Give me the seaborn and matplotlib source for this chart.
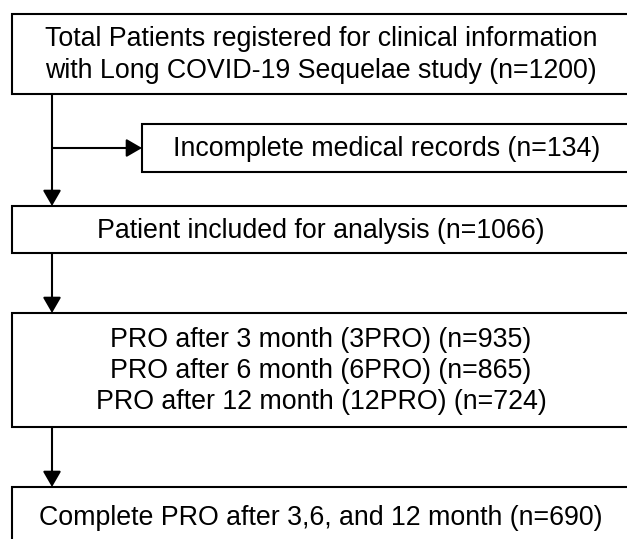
import matplotlib
matplotlib.use('Agg')
import matplotlib.pyplot as plt
from matplotlib.patches import Rectangle
import seaborn as sns

# 흐름도 내용
box_labels = [
    'Total Patients registered for clinical information\nwith Long COVID-19 Sequelae study (n=1200)',
    'Incomplete medical records (n=134)',
    'Patient included for analysis (n=1066)',
    'PRO after 3 month (3PRO) (n=935)\nPRO after 6 month (6PRO) (n=865)\nPRO after 12 month (12PRO) (n=724)',
    'Complete PRO after 3,6, and 12 month (n=690)',
]
counts = [1200, 134, 1066, 935, 690]

# 박스 위치 (픽셀 좌표: left, top, right, bottom)
boxes = [
    (12, 14, 630, 94),
    (142, 124, 631, 172),
    (12, 206, 630, 253),
    (12, 313, 630, 427),
    (12, 487, 630, 547),
]

sns.set_theme(style='white')
plt.rcParams['font.family'] = ['Liberation Sans', 'DejaVu Sans']

fig = plt.figure(figsize=(6.27, 5.39), dpi=100)
ax = fig.add_axes([0, 0, 1, 1])
ax.set_xlim(0, 627)
ax.set_ylim(539, 0)
ax.axis('off')

for (l, t, r, b), label in zip(boxes, box_labels):
    ax.add_patch(Rectangle((l, t), r - l, b - t, facecolor='white',
                           edgecolor='black', lw=1.5))
    ax.text((l + r) / 2, (t + b) / 2 + 1, label, ha='center', va='center',
            fontsize=19.3, linespacing=1.25, color='black')

arrow = dict(arrowstyle='-|>,head_length=0.95,head_width=0.55', color='black',
             lw=1.5, shrinkA=0, shrinkB=0, mutation_scale=10)
x_main = 52

# 세로 화살표
ax.annotate('', xy=(x_main, boxes[2][1]), xytext=(x_main, boxes[0][3]), arrowprops=arrow)
ax.annotate('', xy=(x_main, boxes[3][1]), xytext=(x_main, boxes[2][3]), arrowprops=arrow)
ax.annotate('', xy=(x_main, boxes[4][1]), xytext=(x_main, boxes[3][3]), arrowprops=arrow)
# 제외 화살표
y_mid = (boxes[1][1] + boxes[1][3]) / 2
ax.annotate('', xy=(boxes[1][0], y_mid), xytext=(x_main, y_mid), arrowprops=arrow)

fig.savefig('out.png', dpi=100, facecolor='white')
